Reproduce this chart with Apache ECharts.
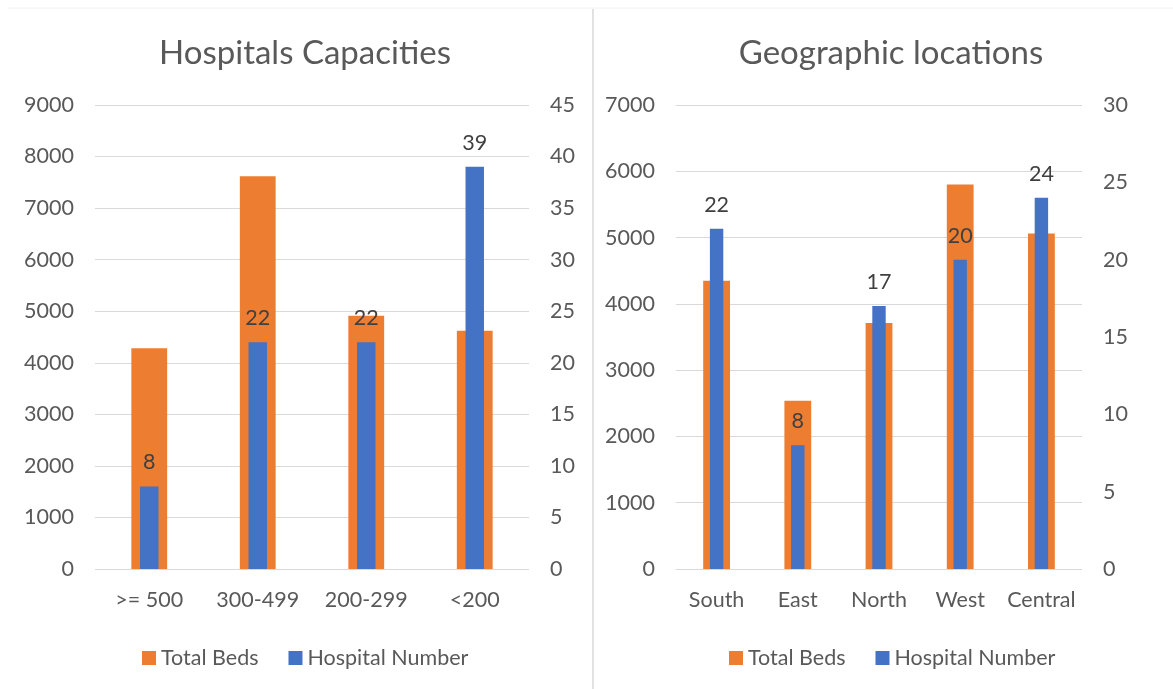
<!DOCTYPE html>
<html>
<head>
<meta charset="utf-8">
<script src="https://cdn.jsdelivr.net/npm/echarts@6/dist/echarts.min.js"></script>
<style>
  html, body { margin: 0; padding: 0; background: #ffffff; }
  #chart { width: 1173px; height: 689px; }
</style>
</head>
<body>
<div id="chart"></div>
<script>
// Hospitals grouped by bed capacity
const capacityCategories = ['>= 500', '300-499', '200-299', '<200'];
const capacityBeds = [4280, 7620, 4910, 4620];
const capacityHospitals = [8, 22, 22, 39];
const capacityBedTicks = { min: 0, max: 9000, interval: 1000 };
const capacityCountTicks = { min: 0, max: 45, interval: 5 };

// Hospitals grouped by region
const regionCategories = ['South', 'East', 'North', 'West', 'Central'];
const regionBeds = [4350, 2540, 3710, 5800, 5060];
const regionHospitals = [22, 8, 17, 20, 24];
const regionBedTicks = { min: 0, max: 7000, interval: 1000 };
const regionCountTicks = { min: 0, max: 30, interval: 5 };

const FONT = 'Lato, "Open Sans", sans-serif';
const TEXT = '#595959';
const ORANGE = '#ED7D31';
const BLUE = '#4472C4';
const LABEL_SIZE = 21.5;

function catAxis(gridIndex, data, visible) {
  return {
    type: 'category', gridIndex, data,
    show: visible,
    axisLine: { show: false },
    axisTick: { show: false },
    axisLabel: {
      color: TEXT, fontSize: LABEL_SIZE, fontFamily: FONT, margin: 20,
      interval: 0, hideOverlap: false
    },
    splitLine: { show: false }
  };
}
function valAxis(gridIndex, ticks, position, grid) {
  return {
    type: 'value', gridIndex, position,
    min: ticks.min, max: ticks.max, interval: ticks.interval,
    axisLine: { show: false },
    axisTick: { show: false },
    axisLabel: {
      color: TEXT, fontSize: LABEL_SIZE, fontFamily: FONT, margin: 21,
      formatter: v => String(v)
    },
    splitLine: { show: grid, lineStyle: { color: '#d9d9d9', width: 1 } }
  };
}
function barSeries(name, xi, yi, data, color, width, labelled) {
  return {
    name, type: 'bar', xAxisIndex: xi, yAxisIndex: yi, data,
    barWidth: width,
    itemStyle: { color },
    label: {
      show: labelled, position: 'top', distance: 13,
      color: '#404040', fontSize: LABEL_SIZE, fontFamily: FONT
    },
    emphasis: { disabled: true }
  };
}

const legendStyle = { color: TEXT, fontSize: LABEL_SIZE, fontFamily: FONT };

const chart = echarts.init(document.getElementById('chart'), null, { renderer: 'canvas' });
chart.setOption({
  animation: false,
  backgroundColor: '#ffffff',
  textStyle: { fontFamily: FONT },
  title: [
    { text: 'Hospitals Capacities', left: 300, top: 32, textAlign: 'center',
      textStyle: { color: TEXT, fontSize: 33, fontWeight: 'normal', fontFamily: FONT } },
    { text: 'Geographic locations', left: 886, top: 32, textAlign: 'center',
      textStyle: { color: TEXT, fontSize: 33, fontWeight: 'normal', fontFamily: FONT } }
  ],
  legend: [
    { left: 137, top: 642, itemWidth: 14, itemHeight: 14, itemGap: 30, icon: 'rect',
      data: ['Total Beds', 'Hospital Number'], textStyle: legendStyle },
    { left: 724, top: 642, itemWidth: 14, itemHeight: 14, itemGap: 30, icon: 'rect',
      data: ['Total Beds', 'Hospital Number'], textStyle: legendStyle }
  ],
  grid: [
    { left: 95, top: 105, width: 434, height: 464 },
    { left: 676, top: 105, width: 406, height: 464 }
  ],
  xAxis: [
    catAxis(0, capacityCategories, true),
    catAxis(0, capacityCategories, false),
    catAxis(1, regionCategories, true),
    catAxis(1, regionCategories, false)
  ],
  yAxis: [
    valAxis(0, capacityBedTicks, 'left', true),
    valAxis(0, capacityCountTicks, 'right', false),
    valAxis(1, regionBedTicks, 'left', true),
    valAxis(1, regionCountTicks, 'right', false)
  ],
  series: [
    barSeries('Total Beds', 0, 0, capacityBeds, ORANGE, '33%', false),
    barSeries('Hospital Number', 1, 1, capacityHospitals, BLUE, '17%', true),
    barSeries('Total Beds', 2, 2, regionBeds, ORANGE, '33%', false),
    barSeries('Hospital Number', 3, 3, regionHospitals, BLUE, '16.5%', true)
  ],
  graphic: [
    { type: 'line', shape: { x1: 593, y1: 9, x2: 593, y2: 689 },
      style: { stroke: '#d9d9d9', lineWidth: 1.5 }, silent: true },
    { type: 'line', shape: { x1: 8, y1: 8, x2: 1173, y2: 8 },
      style: { stroke: '#f0f0f0', lineWidth: 1 }, silent: true }
  ]
});
</script>
</body>
</html>
